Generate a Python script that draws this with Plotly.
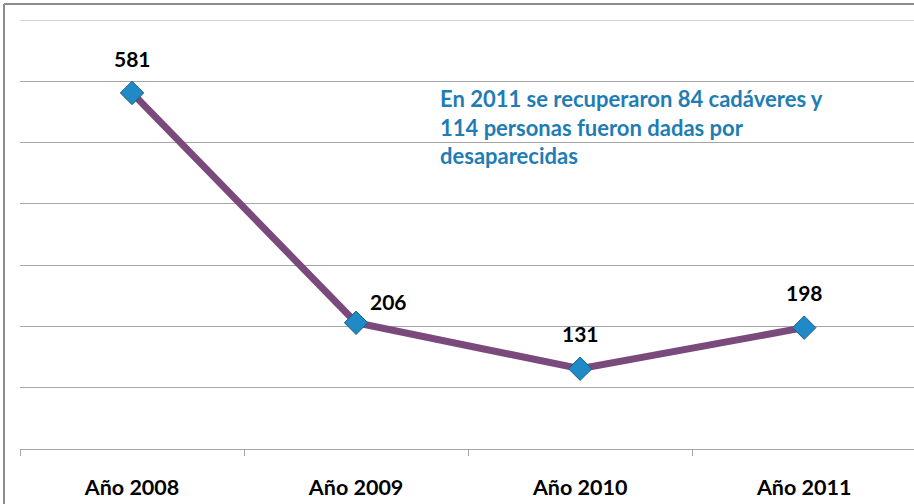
import plotly.graph_objects as go

categories = ["Año 2008", "Año 2009", "Año 2010", "Año 2011"]
values = [581, 206, 131, 198]
label_xshift = [0, 32, 0, 0]
label_yshift = [34, 21, 35, 35]
note = "En 2011 se recuperaron 84 cadáveres y<br>114 personas fueron dadas por<br>desaparecidas"

W, H = 914, 504
ml, mr, mt, mb = 20, 0, 20, 55
pw, ph = W - ml - mr, H - mt - mb

def px(x):
    return (x - ml) / pw

def py(y):
    return (H - mb - y) / ph

fig = go.Figure()
fig.add_trace(go.Scatter(
    x=categories, y=values, mode="lines+markers",
    line=dict(color="#7B4A7D", width=7),
    marker=dict(symbol="diamond", size=18, color="#1F8AC6",
                line=dict(color="#1A5F86", width=1)),
    hoverinfo="skip", showlegend=False,
))

for c, v, dx, dy in zip(categories, values, label_xshift, label_yshift):
    fig.add_annotation(x=c, y=v, text=f"<b>{v}</b>", showarrow=False,
                       xshift=dx, yshift=dy,
                       font=dict(family="Lato", size=21, color="#000000"))

fig.add_annotation(xref="paper", yref="paper", x=px(438), y=py(83),
                   xanchor="left", yanchor="top", align="left",
                   text=f"<b>{note}</b>", showarrow=False,
                   font=dict(family="Lato", size=22, color="#1F7DB5"))

# top gridline at the range edge
fig.add_shape(type="line", xref="paper", yref="y", x0=0, x1=1, y0=700, y1=700,
              line=dict(color="#A6A6A6", width=1), layer="below")

# outer frame
fig.add_shape(type="line", xref="paper", yref="paper",
              x0=px(4), x1=px(4), y0=py(4), y1=py(510),
              line=dict(color="#8C8C8C", width=2))
fig.add_shape(type="line", xref="paper", yref="paper",
              x0=px(4), x1=px(920), y0=py(4), y1=py(4),
              line=dict(color="#8C8C8C", width=2))

fig.update_layout(
    width=W, height=H,
    margin=dict(l=ml, r=mr, t=mt, b=mb),
    paper_bgcolor="white", plot_bgcolor="white",
    xaxis=dict(type="category", range=[-0.5, 3.49], showgrid=False,
               showline=True, linecolor="#A6A6A6", linewidth=1,
               ticks="outside", tickson="boundaries", ticklen=6,
               tickcolor="#A6A6A6", ticklabelstandoff=19,
               tickfont=dict(family="Lato", size=21.5, color="#000000"),
               tickprefix="<b>", ticksuffix="</b>"),
    yaxis=dict(range=[0, 700], dtick=100, showticklabels=False,
               showgrid=True, gridcolor="#A6A6A6", gridwidth=1,
               zeroline=False, showline=False, ticks=""),
)

fig.write_html("out.html", config={"displayModeBar": False},
               post_script="document.body.style.margin='0';")
